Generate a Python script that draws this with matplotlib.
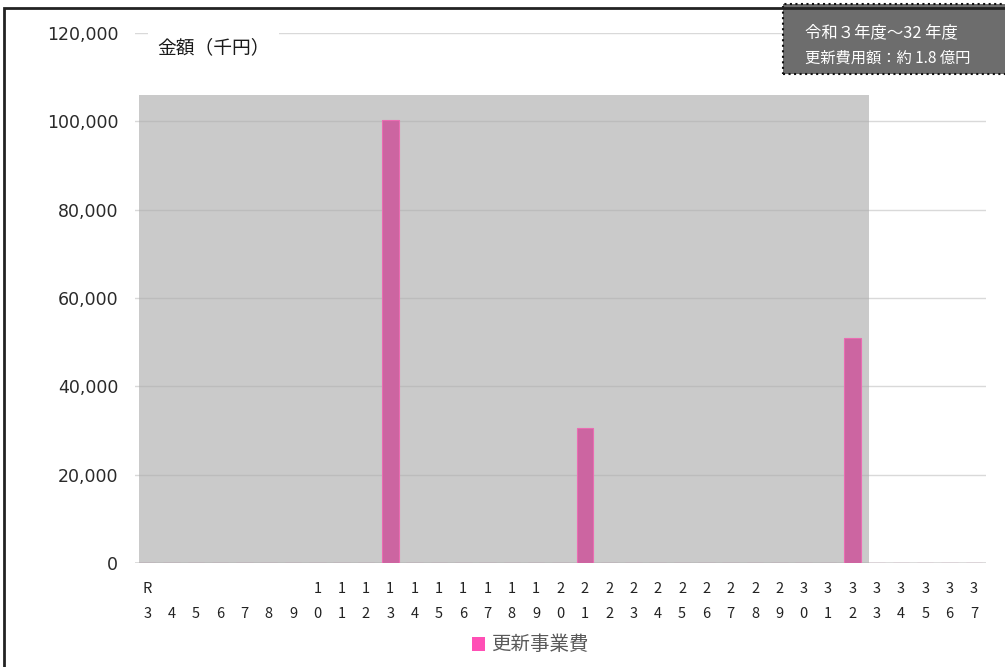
import matplotlib
matplotlib.use("Agg")
import matplotlib.pyplot as plt
from matplotlib.patches import Rectangle, Patch

plt.rcParams['font.family'] = ['Noto Sans CJK JP', 'DejaVu Sans']

# 年度 (令和)
years = ['R3', '4', '5', '6', '7', '8', '9', '10', '11', '12', '13', '14',
         '15', '16', '17', '18', '19', '20', '21', '22', '23', '24', '25',
         '26', '27', '28', '29', '30', '31', '32', '33', '34', '35', '36', '37']
# 更新事業費 (千円)
cost = [0, 0, 0, 0, 0, 0, 0, 0, 0, 0, 100300, 0,
        0, 0, 0, 0, 0, 0, 30600, 0, 0, 0, 0,
        0, 0, 0, 0, 0, 0, 50900, 0, 0, 0, 0, 0]
series_name = '更新事業費'
y_ticks = [0, 20000, 40000, 60000, 80000, 100000, 120000]
period_start, period_end = 'R3', '32'
period_top = 106000
unit_label = '金額（千円）'
note_lines = ['令和３年度～32 年度', '更新費用額：約 1.8 億円']

W, H = 1005, 667
fig = plt.figure(figsize=(W / 100, H / 100), dpi=100)
ax = fig.add_axes([135 / W, 1 - 563 / H, (986 - 135) / W, (563 - 33) / H])

x = list(range(len(years)))

# 集計対象期間の網掛け
i0, i1 = years.index(period_start), years.index(period_end)
ax.add_patch(Rectangle((i0 - 0.33, 0), (i1 + 0.67) - (i0 - 0.33), period_top,
                       facecolor=(172 / 255,) * 3, alpha=0.63,
                       edgecolor='none', zorder=2))

ax.bar(x, cost, width=0.68, color='#cc65a1', edgecolor='#ea6cb2',
       linewidth=0.8, zorder=3)

ax.set_xlim(-0.5, len(years) - 0.5)
ax.set_ylim(0, 120000)
ax.set_yticks(y_ticks)
ax.set_yticklabels([f'{v:,}' for v in y_ticks], fontsize=12.5,
                   color='#2a2a2a', family=['DejaVu Sans'])

def stacked(label):
    if len(label) == 2:
        return label[0] + '\n' + label[1]
    return '\n' + label

ax.set_xticks(x)
ax.set_xticklabels([stacked(s) for s in years], fontsize=10.5,
                   color='#222222', linespacing=1.98)
ax.tick_params(axis='both', length=0)
ax.tick_params(axis='y', pad=12)
ax.tick_params(axis='x', pad=13.5)
for s in ax.spines.values():
    s.set_visible(False)
ax.yaxis.grid(True, color='#d9d9d9', linewidth=1, zorder=1)
ax.set_axisbelow(True)
ax.axhline(0, color='#d9d9d9', linewidth=2, zorder=1)

# 単位ラベル
fig.text(157 / W, 1 - 48 / H, unit_label, fontsize=13.5, color='#1a1a1a',
         va='center', ha='left',
         bbox=dict(boxstyle='square,pad=0.5', facecolor='white', edgecolor='none'))

# 右上の注記ボックス
fig.patches.append(Rectangle((783 / W, 1 - 74 / H), 240 / W, 70 / H,
                             transform=fig.transFigure, facecolor='#6d6d6d',
                             edgecolor='#111111', linestyle=':', linewidth=1.5,
                             zorder=4))
fig.text(805 / W, 1 - 33 / H, note_lines[0], fontsize=11.8, color='white',
         va='center', ha='left', zorder=5)
fig.text(805 / W, 1 - 58 / H, note_lines[1], fontsize=11, color='white',
         va='center', ha='left', zorder=5)

# 外枠
fig.patches.append(Rectangle((4 / W, -0.05), 1.1, 1 - 8 / H + 0.05,
                             transform=fig.transFigure, facecolor='none',
                             edgecolor='#222222', linewidth=2, zorder=6))

fig.legend(handles=[Patch(facecolor='#ff4fb5', edgecolor='none', label=series_name)],
           loc='center', bbox_to_anchor=(530 / W, 1 - 645 / H), frameon=False,
           fontsize=14, labelcolor='#595959', handlelength=0.7, handleheight=0.7,
           handletextpad=0.3)

fig.savefig('out.png', dpi=100)
